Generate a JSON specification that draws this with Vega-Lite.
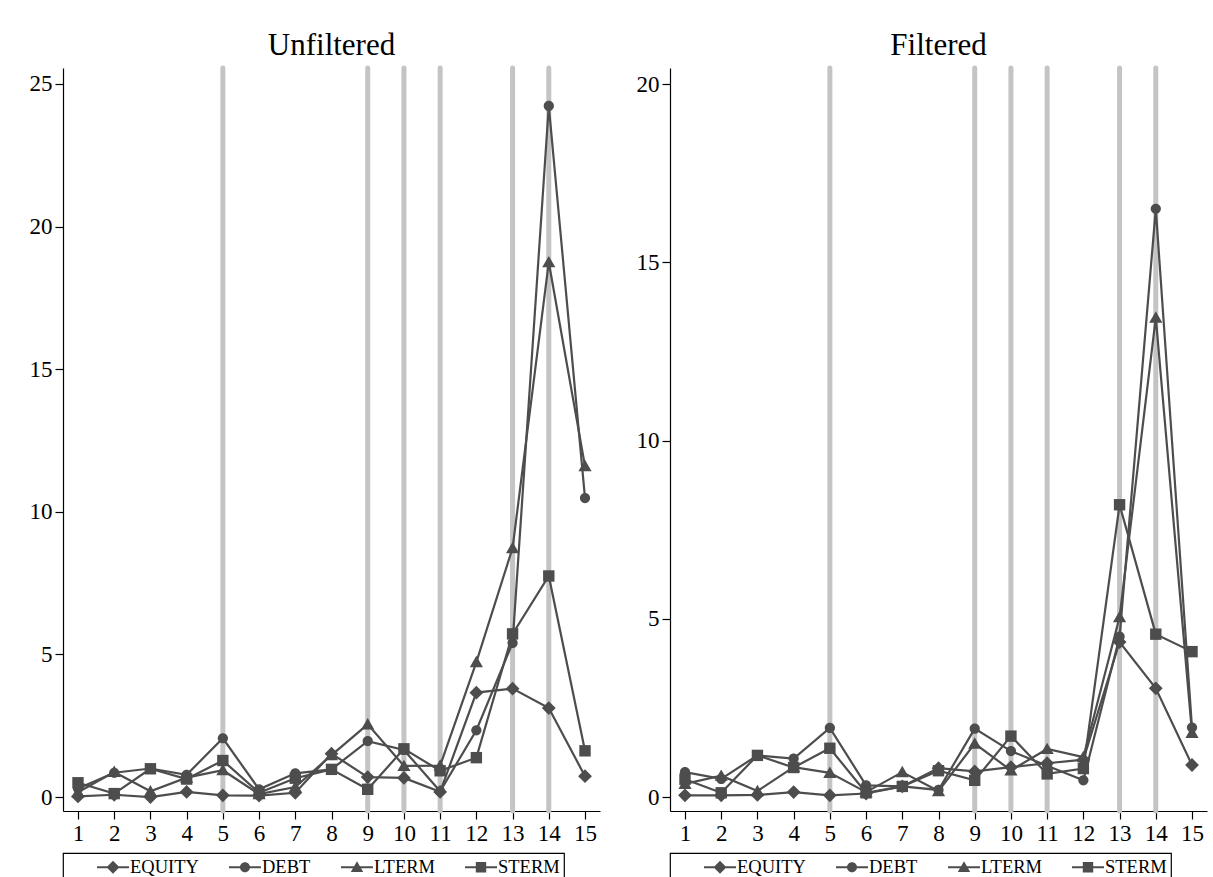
{
  "$schema": "https://vega.github.io/schema/vega-lite/v6.json",
  "background": "white",
  "padding": {"left": 29, "top": 29, "right": 2, "bottom": 0},
  "config": {
    "font": "Liberation Serif",
    "view": {"stroke": null},
    "axis": {"labelFont": "Liberation Serif", "labelFontSize": 23, "labelColor": "black", "domainColor": "black", "tickColor": "black", "tickSize": 8, "grid": false, "title": null, "labelPadding": 3, "domainWidth": 1.2, "tickWidth": 1.2, "labelOverlap": false},
    "title": {"font": "Liberation Serif", "fontSize": 31, "fontWeight": "normal", "color": "black", "offset": 4},
    "legend": {"orient": "bottom", "direction": "horizontal", "title": null, "labelFont": "Liberation Serif", "labelFontSize": 18.5, "labelColor": "black", "strokeColor": "black", "strokeWidth": 1.2, "padding": 4, "symbolSize": 400, "symbolStrokeWidth": 0, "symbolFillColor": "#4d4d4d", "labelOffset": 7, "columnPadding": 0, "offset": 8, "symbolOffset": 36}
  },
  "datasets": {
    "vlines": [{"x": 5}, {"x": 9}, {"x": 10}, {"x": 11}, {"x": 13}, {"x": 14}],
    "none": [],
    "unf": [
      {"t": 1, "series": "EQUITY", "value": 0.02}, {"t": 1, "series": "DEBT", "value": 0.3}, {"t": 1, "series": "LTERM", "value": 0.17}, {"t": 1, "series": "STERM", "value": 0.5},
      {"t": 2, "series": "EQUITY", "value": 0.08}, {"t": 2, "series": "DEBT", "value": 0.85}, {"t": 2, "series": "LTERM", "value": 0.88}, {"t": 2, "series": "STERM", "value": 0.12},
      {"t": 3, "series": "EQUITY", "value": 0.0}, {"t": 3, "series": "DEBT", "value": 1.0}, {"t": 3, "series": "LTERM", "value": 0.2}, {"t": 3, "series": "STERM", "value": 0.99},
      {"t": 4, "series": "EQUITY", "value": 0.18}, {"t": 4, "series": "DEBT", "value": 0.78}, {"t": 4, "series": "LTERM", "value": 0.68}, {"t": 4, "series": "STERM", "value": 0.63},
      {"t": 5, "series": "EQUITY", "value": 0.06}, {"t": 5, "series": "DEBT", "value": 2.06}, {"t": 5, "series": "LTERM", "value": 0.94}, {"t": 5, "series": "STERM", "value": 1.28},
      {"t": 6, "series": "EQUITY", "value": 0.05}, {"t": 6, "series": "DEBT", "value": 0.27}, {"t": 6, "series": "LTERM", "value": 0.1}, {"t": 6, "series": "STERM", "value": 0.15},
      {"t": 7, "series": "EQUITY", "value": 0.15}, {"t": 7, "series": "DEBT", "value": 0.83}, {"t": 7, "series": "LTERM", "value": 0.35}, {"t": 7, "series": "STERM", "value": 0.66},
      {"t": 8, "series": "EQUITY", "value": 1.52}, {"t": 8, "series": "DEBT", "value": 0.97}, {"t": 8, "series": "LTERM", "value": 1.47}, {"t": 8, "series": "STERM", "value": 0.97},
      {"t": 9, "series": "EQUITY", "value": 0.7}, {"t": 9, "series": "DEBT", "value": 1.96}, {"t": 9, "series": "LTERM", "value": 2.55}, {"t": 9, "series": "STERM", "value": 0.27},
      {"t": 10, "series": "EQUITY", "value": 0.67}, {"t": 10, "series": "DEBT", "value": 1.65}, {"t": 10, "series": "LTERM", "value": 1.09}, {"t": 10, "series": "STERM", "value": 1.69},
      {"t": 11, "series": "EQUITY", "value": 0.18}, {"t": 11, "series": "DEBT", "value": 0.2}, {"t": 11, "series": "LTERM", "value": 1.1}, {"t": 11, "series": "STERM", "value": 0.92},
      {"t": 12, "series": "EQUITY", "value": 3.66}, {"t": 12, "series": "DEBT", "value": 2.34}, {"t": 12, "series": "LTERM", "value": 4.73}, {"t": 12, "series": "STERM", "value": 1.38},
      {"t": 13, "series": "EQUITY", "value": 3.8}, {"t": 13, "series": "DEBT", "value": 5.4}, {"t": 13, "series": "LTERM", "value": 8.73}, {"t": 13, "series": "STERM", "value": 5.72},
      {"t": 14, "series": "EQUITY", "value": 3.12}, {"t": 14, "series": "DEBT", "value": 24.23}, {"t": 14, "series": "LTERM", "value": 18.75}, {"t": 14, "series": "STERM", "value": 7.75},
      {"t": 15, "series": "EQUITY", "value": 0.73}, {"t": 15, "series": "DEBT", "value": 10.48}, {"t": 15, "series": "LTERM", "value": 11.6}, {"t": 15, "series": "STERM", "value": 1.62}
    ],
    "fil": [
      {"t": 1, "series": "EQUITY", "value": 0.05}, {"t": 1, "series": "DEBT", "value": 0.7}, {"t": 1, "series": "LTERM", "value": 0.37}, {"t": 1, "series": "STERM", "value": 0.5},
      {"t": 2, "series": "EQUITY", "value": 0.05}, {"t": 2, "series": "DEBT", "value": 0.51}, {"t": 2, "series": "LTERM", "value": 0.6}, {"t": 2, "series": "STERM", "value": 0.12},
      {"t": 3, "series": "EQUITY", "value": 0.06}, {"t": 3, "series": "DEBT", "value": 1.17}, {"t": 3, "series": "LTERM", "value": 0.17}, {"t": 3, "series": "STERM", "value": 1.17},
      {"t": 4, "series": "EQUITY", "value": 0.14}, {"t": 4, "series": "DEBT", "value": 1.08}, {"t": 4, "series": "LTERM", "value": 0.84}, {"t": 4, "series": "STERM", "value": 0.83},
      {"t": 5, "series": "EQUITY", "value": 0.05}, {"t": 5, "series": "DEBT", "value": 1.94}, {"t": 5, "series": "LTERM", "value": 0.68}, {"t": 5, "series": "STERM", "value": 1.37},
      {"t": 6, "series": "EQUITY", "value": 0.1}, {"t": 6, "series": "DEBT", "value": 0.33}, {"t": 6, "series": "LTERM", "value": 0.14}, {"t": 6, "series": "STERM", "value": 0.12},
      {"t": 7, "series": "EQUITY", "value": 0.3}, {"t": 7, "series": "DEBT", "value": 0.3}, {"t": 7, "series": "LTERM", "value": 0.7}, {"t": 7, "series": "STERM", "value": 0.3},
      {"t": 8, "series": "EQUITY", "value": 0.81}, {"t": 8, "series": "DEBT", "value": 0.2}, {"t": 8, "series": "LTERM", "value": 0.17}, {"t": 8, "series": "STERM", "value": 0.74},
      {"t": 9, "series": "EQUITY", "value": 0.72}, {"t": 9, "series": "DEBT", "value": 1.92}, {"t": 9, "series": "LTERM", "value": 1.5}, {"t": 9, "series": "STERM", "value": 0.47},
      {"t": 10, "series": "EQUITY", "value": 0.84}, {"t": 10, "series": "DEBT", "value": 1.29}, {"t": 10, "series": "LTERM", "value": 0.75}, {"t": 10, "series": "STERM", "value": 1.71},
      {"t": 11, "series": "EQUITY", "value": 0.95}, {"t": 11, "series": "DEBT", "value": 0.88}, {"t": 11, "series": "LTERM", "value": 1.35}, {"t": 11, "series": "STERM", "value": 0.65},
      {"t": 12, "series": "EQUITY", "value": 1.05}, {"t": 12, "series": "DEBT", "value": 0.47}, {"t": 12, "series": "LTERM", "value": 1.12}, {"t": 12, "series": "STERM", "value": 0.8},
      {"t": 13, "series": "EQUITY", "value": 4.35}, {"t": 13, "series": "DEBT", "value": 4.5}, {"t": 13, "series": "LTERM", "value": 5.05}, {"t": 13, "series": "STERM", "value": 8.2},
      {"t": 14, "series": "EQUITY", "value": 3.05}, {"t": 14, "series": "DEBT", "value": 16.5}, {"t": 14, "series": "LTERM", "value": 13.45}, {"t": 14, "series": "STERM", "value": 4.57},
      {"t": 15, "series": "EQUITY", "value": 0.9}, {"t": 15, "series": "DEBT", "value": 1.95}, {"t": 15, "series": "LTERM", "value": 1.8}, {"t": 15, "series": "STERM", "value": 4.08}
    ]
  },
  "spacing": 36,
  "resolve": {"scale": {"y": "independent", "shape": "independent"}, "legend": {"shape": "independent"}},
  "hconcat": [
    {
      "title": "Unfiltered",
      "width": 537,
      "height": 743,
      "resolve": {"scale": {"shape": "independent"}},
      "layer": [
        {
          "data": {"name": "vlines"},
          "mark": {"type": "rule", "color": "#c4c4c4", "strokeWidth": 5, "strokeCap": "round"},
          "encoding": {"x": {"field": "x", "type": "quantitative", "scale": {"domain": [0.586, 15.414], "nice": false, "zero": false}, "axis": {"values": [1,2,3,4,5,6,7,8,9,10,11,12,13,14,15], "tickCount": 15, "format": "d", "labelOverlap": false}}}
        },
        {
          "data": {"name": "unf"},
          "mark": {"type": "line", "color": "#4d4d4d", "strokeWidth": 2.2},
          "encoding": {
            "x": {"field": "t", "type": "quantitative", "axis": {"values": [1,2,3,4,5,6,7,8,9,10,11,12,13,14,15], "tickCount": 15, "format": "d", "labelOverlap": false}},
            "y": {"field": "value", "type": "quantitative", "scale": {"domain": [-0.49, 25.56], "nice": false, "zero": false}, "axis": {"values": [0, 5, 10, 15, 20, 25]}},
            "detail": {"field": "series", "type": "nominal"}
          }
        },
        {
          "data": {"name": "unf"},
          "mark": {"type": "point", "filled": true, "color": "#4d4d4d", "opacity": 1, "size": 144},
          "encoding": {
            "x": {"field": "t", "type": "quantitative", "axis": {"values": [1,2,3,4,5,6,7,8,9,10,11,12,13,14,15], "tickCount": 15, "format": "d", "labelOverlap": false}},
            "y": {"field": "value", "type": "quantitative"},
            "shape": {"field": "series", "type": "nominal", "scale": {"domain": ["EQUITY", "DEBT", "LTERM", "STERM"], "range": ["M0,-1.15L1.15,0L0,1.15L-1.15,0Z", "M-0.85,0A0.85,0.85,0,1,1,0.85,0A0.85,0.85,0,1,1,-0.85,0Z", "M0,-1.05L1.1,0.85L-1.1,0.85Z", "M-0.95,-0.95L0.95,-0.95L0.95,0.95L-0.95,0.95Z"]}, "legend": null}
          }
        },
        {
          "data": {"name": "none"},
          "mark": {"type": "point", "filled": true, "color": "#4d4d4d", "opacity": 1, "size": 400},
          "encoding": {
            "shape": {"field": "series", "type": "nominal", "scale": {"domain": ["EQUITY", "DEBT", "LTERM", "STERM"], "range": ["M-1.6,-0.1L1.6,-0.1L1.6,0.1L-1.6,0.1ZM0,-0.65L0.65,0L0,0.65L-0.65,0Z", "M-1.6,-0.1L1.6,-0.1L1.6,0.1L-1.6,0.1ZM-0.5,0A0.5,0.5,0,1,1,0.5,0A0.5,0.5,0,1,1,-0.5,0Z", "M-1.6,-0.1L1.6,-0.1L1.6,0.1L-1.6,0.1ZM0,-0.6L0.62,0.48L-0.62,0.48Z", "M-1.6,-0.1L1.6,-0.1L1.6,0.1L-1.6,0.1ZM-0.52,-0.52L0.52,-0.52L0.52,0.52L-0.52,0.52Z"]},
              "legend": {"symbolFillColor": "#4d4d4d", "symbolStrokeWidth": 0}}
          }
        }
      ]
    },
    {
      "title": "Filtered",
      "width": 537,
      "height": 743,
      "resolve": {"scale": {"shape": "independent"}},
      "layer": [
        {
          "data": {"name": "vlines"},
          "mark": {"type": "rule", "color": "#c4c4c4", "strokeWidth": 5, "strokeCap": "round"},
          "encoding": {"x": {"field": "x", "type": "quantitative", "scale": {"domain": [0.586, 15.414], "nice": false, "zero": false}, "axis": {"values": [1,2,3,4,5,6,7,8,9,10,11,12,13,14,15], "tickCount": 15, "format": "d", "labelOverlap": false}}}
        },
        {
          "data": {"name": "fil"},
          "mark": {"type": "line", "color": "#4d4d4d", "strokeWidth": 2.2},
          "encoding": {
            "x": {"field": "t", "type": "quantitative", "axis": {"values": [1,2,3,4,5,6,7,8,9,10,11,12,13,14,15], "tickCount": 15, "format": "d", "labelOverlap": false}},
            "y": {"field": "value", "type": "quantitative", "scale": {"domain": [-0.39, 20.45], "nice": false, "zero": false}, "axis": {"values": [0, 5, 10, 15, 20]}},
            "detail": {"field": "series", "type": "nominal"}
          }
        },
        {
          "data": {"name": "fil"},
          "mark": {"type": "point", "filled": true, "color": "#4d4d4d", "opacity": 1, "size": 144},
          "encoding": {
            "x": {"field": "t", "type": "quantitative", "axis": {"values": [1,2,3,4,5,6,7,8,9,10,11,12,13,14,15], "tickCount": 15, "format": "d", "labelOverlap": false}},
            "y": {"field": "value", "type": "quantitative"},
            "shape": {"field": "series", "type": "nominal", "scale": {"domain": ["EQUITY", "DEBT", "LTERM", "STERM"], "range": ["M0,-1.15L1.15,0L0,1.15L-1.15,0Z", "M-0.85,0A0.85,0.85,0,1,1,0.85,0A0.85,0.85,0,1,1,-0.85,0Z", "M0,-1.05L1.1,0.85L-1.1,0.85Z", "M-0.95,-0.95L0.95,-0.95L0.95,0.95L-0.95,0.95Z"]}, "legend": null}
          }
        },
        {
          "data": {"name": "none"},
          "mark": {"type": "point", "filled": true, "color": "#4d4d4d", "opacity": 1, "size": 400},
          "encoding": {
            "shape": {"field": "series", "type": "nominal", "scale": {"domain": ["EQUITY", "DEBT", "LTERM", "STERM"], "range": ["M-1.6,-0.1L1.6,-0.1L1.6,0.1L-1.6,0.1ZM0,-0.65L0.65,0L0,0.65L-0.65,0Z", "M-1.6,-0.1L1.6,-0.1L1.6,0.1L-1.6,0.1ZM-0.5,0A0.5,0.5,0,1,1,0.5,0A0.5,0.5,0,1,1,-0.5,0Z", "M-1.6,-0.1L1.6,-0.1L1.6,0.1L-1.6,0.1ZM0,-0.6L0.62,0.48L-0.62,0.48Z", "M-1.6,-0.1L1.6,-0.1L1.6,0.1L-1.6,0.1ZM-0.52,-0.52L0.52,-0.52L0.52,0.52L-0.52,0.52Z"]},
              "legend": {"symbolFillColor": "#4d4d4d", "symbolStrokeWidth": 0}}
          }
        }
      ]
    }
  ]
}
